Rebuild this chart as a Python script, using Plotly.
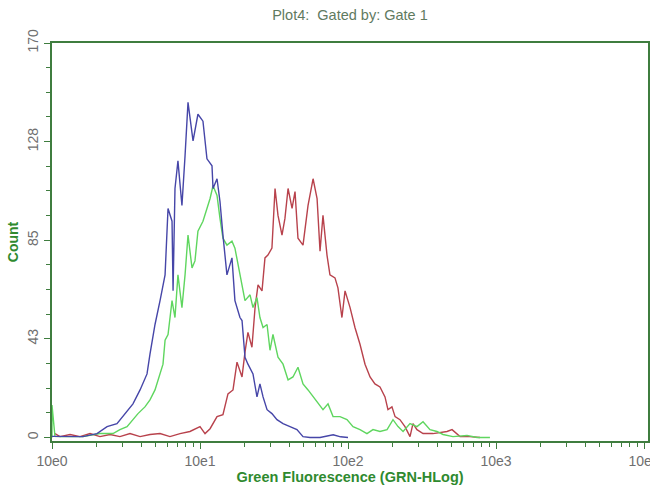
import numpy as np
import plotly.graph_objects as go

# ---- data (log10 of fluorescence, count) ----
blue_dec = [0.0, 0.054, 0.101, 0.209, 0.304, 0.372, 0.439, 0.493, 0.547, 0.595, 0.642, 0.662, 0.696,
            0.730, 0.764, 0.784, 0.811, 0.818, 0.831, 0.851, 0.878, 0.899, 0.919, 0.953, 0.986,
            1.020, 1.047, 1.081, 1.088, 1.115, 1.135, 1.155, 1.182, 1.216, 1.236, 1.270, 1.284,
            1.304, 1.324, 1.358, 1.385, 1.405, 1.426, 1.453, 1.486, 1.520, 1.561, 1.608, 1.655,
            1.696, 1.743, 1.811, 1.900, 1.950, 2.000]
blue_cnt = [0.5, 0.4, 0.4, 0.4, 1.7, 4.7, 6.0, 10.3, 14.5, 20.5, 27.4, 35.9, 48.7,
            59.0, 70.1, 98.7, 93.2, 63.2, 107.3, 119.2, 100.0, 121.4, 144.4, 127.8, 139.3,
            136.3, 120.1, 117.1, 107.3, 111.5, 101.7, 87.2, 70.1, 77.4, 59.0, 51.7, 50.4,
            34.6, 31.6, 27.4, 17.5, 23.1, 17.5, 12.0, 10.3, 7.7, 6.0, 4.7, 3.4,
            0.4, 0.0, 0.0, 1.2, 0.3, 0.0]

green_dec = [0.0, 0.0, 0.02, 0.054, 0.209, 0.324, 0.412, 0.459, 0.507, 0.547, 0.581, 0.628, 0.662,
             0.696, 0.730, 0.750, 0.764, 0.784, 0.811, 0.831, 0.851, 0.878, 0.899, 0.919, 0.946,
             0.966, 0.986, 1.020, 1.047, 1.068, 1.088, 1.115, 1.135, 1.155, 1.182, 1.216, 1.236,
             1.270, 1.304, 1.338, 1.358, 1.385, 1.405, 1.426, 1.453, 1.473, 1.493, 1.527, 1.561,
             1.595, 1.628, 1.662, 1.696, 1.730, 1.764, 1.797, 1.831, 1.865, 1.899, 1.946, 1.993,
             2.034, 2.081, 2.128, 2.169, 2.216, 2.264, 2.304, 2.338, 2.372, 2.419, 2.466, 2.507,
             2.554, 2.601, 2.642, 2.709, 2.804, 2.872, 2.959]
green_cnt = [0.0, 14.0, 0.5, 0.4, 0.4, 1.7, 1.7, 3.4, 4.7, 7.7, 10.3, 13.2, 16.2,
             20.5, 27.4, 31.6, 41.9, 44.4, 59.0, 51.7, 70.1, 56.0, 70.1, 87.2, 73.1,
             76.1, 88.9, 93.2, 98.7, 103.0, 108.5, 104.3, 94.4, 85.9, 82.9, 84.6, 81.6,
             70.1, 59.0, 61.5, 56.0, 60.3, 51.7, 47.4, 48.7, 37.6, 44.4, 34.6, 31.6,
             24.8, 26.1, 30.3, 23.1, 20.5, 17.5, 14.5, 12.0, 14.5, 9.0, 9.0, 7.7,
             4.7, 3.4, 1.7, 3.4, 2.6, 3.4, 7.7, 4.7, 2.6, 6.0, 4.7, 6.8,
             3.4, 2.6, 1.3, 0.4, 0.9, 0.0, 0.0]

red_dec = [0.020, 0.054, 0.122, 0.189, 0.257, 0.324, 0.392, 0.459, 0.527, 0.595, 0.662, 0.730,
           0.797, 0.865, 0.932, 1.000, 1.034, 1.068, 1.115, 1.155, 1.189, 1.223, 1.250, 1.284,
           1.304, 1.324, 1.351, 1.372, 1.392, 1.419, 1.439, 1.459, 1.486, 1.507, 1.527, 1.554,
           1.574, 1.595, 1.622, 1.642, 1.662, 1.696, 1.730, 1.764, 1.791, 1.811, 1.831, 1.858,
           1.878, 1.912, 1.932, 1.959, 1.980, 2.014, 2.047, 2.081, 2.115, 2.149, 2.182, 2.216,
           2.250, 2.270, 2.297, 2.318, 2.351, 2.385, 2.419, 2.439, 2.466, 2.507, 2.574, 2.669,
           2.703, 2.757, 2.824, 2.892]
red_cnt = [1.7, 0.4, 1.3, 0.4, 1.7, 0.4, 1.3, 0.4, 1.7, 0.4, 1.3, 1.7,
           0.4, 1.7, 2.6, 4.7, 1.7, 3.8, 9.0, 9.8, 18.8, 20.5, 32.5, 26.1,
           36.8, 45.3, 38.9, 56.0, 65.8, 63.2, 77.4, 78.6, 81.6, 107.3, 95.7, 87.2,
           94.4, 107.3, 98.7, 106.0, 85.9, 82.9, 100.0, 111.5, 103.0, 80.3, 95.7, 78.6,
           70.1, 68.8, 64.5, 51.7, 63.2, 56.0, 47.4, 40.2, 31.6, 26.1, 23.1, 21.8,
           17.5, 12.0, 13.2, 9.0, 7.7, 4.7, 0.4, 6.0, 3.4, 1.7, 1.7, 2.6,
           3.4, 0.4, 0.4, 0.0]

x_tickvals = [1, 10, 100, 1000, 10000]
x_ticktext = ["10e0", "10e1", "10e2", "10e3", "10e4"]
y_tickvals = [0, 42.5, 85, 127.5, 170]
y_ticktext = ["0", "43", "85", "128", "170"]

FONT = "Liberation Sans, Arial, sans-serif"
FRAME = "#3f7d3f"

fig = go.Figure()
series = [
    (red_dec, red_cnt, "#b8424c"),
    (green_dec, green_cnt, "#5fd65f"),
    (blue_dec, blue_cnt, "#4646a8"),
]
for dec, cnt, col in series:
    fig.add_trace(go.Scatter(
        x=10 ** np.array(dec), y=cnt, mode="lines",
        line=dict(color=col, width=1.4), showlegend=False, hoverinfo="skip"))

fig.update_layout(
    width=650, height=491,
    margin=dict(l=52, r=2, t=43, b=50),
    paper_bgcolor="white", plot_bgcolor="white",
    font=dict(family=FONT, color="#6f6f6f", size=13),
    title=dict(text="Plot4:  Gated by: Gate 1", xref="paper", x=0.5, xanchor="center",
               yref="container", y=0.97, yanchor="middle",
               font=dict(family=FONT, size=14.5, color="#5f7a5f")),
)
fig.update_xaxes(
    type="log", range=[0, 4.027],
    tickvals=x_tickvals, ticktext=x_ticktext,
    ticks="outside", ticklen=6, tickwidth=1, tickcolor=FRAME,
    minor=dict(ticks="outside", ticklen=4, tickcolor=FRAME, dtick="D1", showgrid=False),
    showgrid=False, zeroline=False,
    showline=True, linecolor=FRAME, linewidth=2, mirror=True,
    tickfont=dict(family=FONT, size=14, color="#6f6f6f"),
    ticklabeloverflow="allow",
    title=dict(text="<b>Green Fluorescence (GRN-HLog)</b>", standoff=2,
               font=dict(family=FONT, size=14.5, color="#2f8a2f")),
    automargin=False,
)
fig.update_yaxes(
    range=[-1.5, 170],
    tickvals=y_tickvals, ticktext=y_ticktext, tickangle=-90,
    ticks="outside", ticklen=6, tickwidth=1, tickcolor=FRAME,
    minor=dict(ticks="outside", ticklen=4, tickcolor=FRAME, tick0=0, dtick=10.625, showgrid=False),
    showgrid=False, zeroline=False,
    showline=True, linecolor=FRAME, linewidth=2, mirror=True,
    tickfont=dict(family=FONT, size=14, color="#6f6f6f"),
    title=dict(text="<b>Count</b>", standoff=4,
               font=dict(family=FONT, size=14, color="#2f8a2f")),
    automargin=False,
)

fig.write_html("out.html", config={"displayModeBar": False},
               post_script="document.body.style.margin='0';document.body.style.overflow='hidden';")
